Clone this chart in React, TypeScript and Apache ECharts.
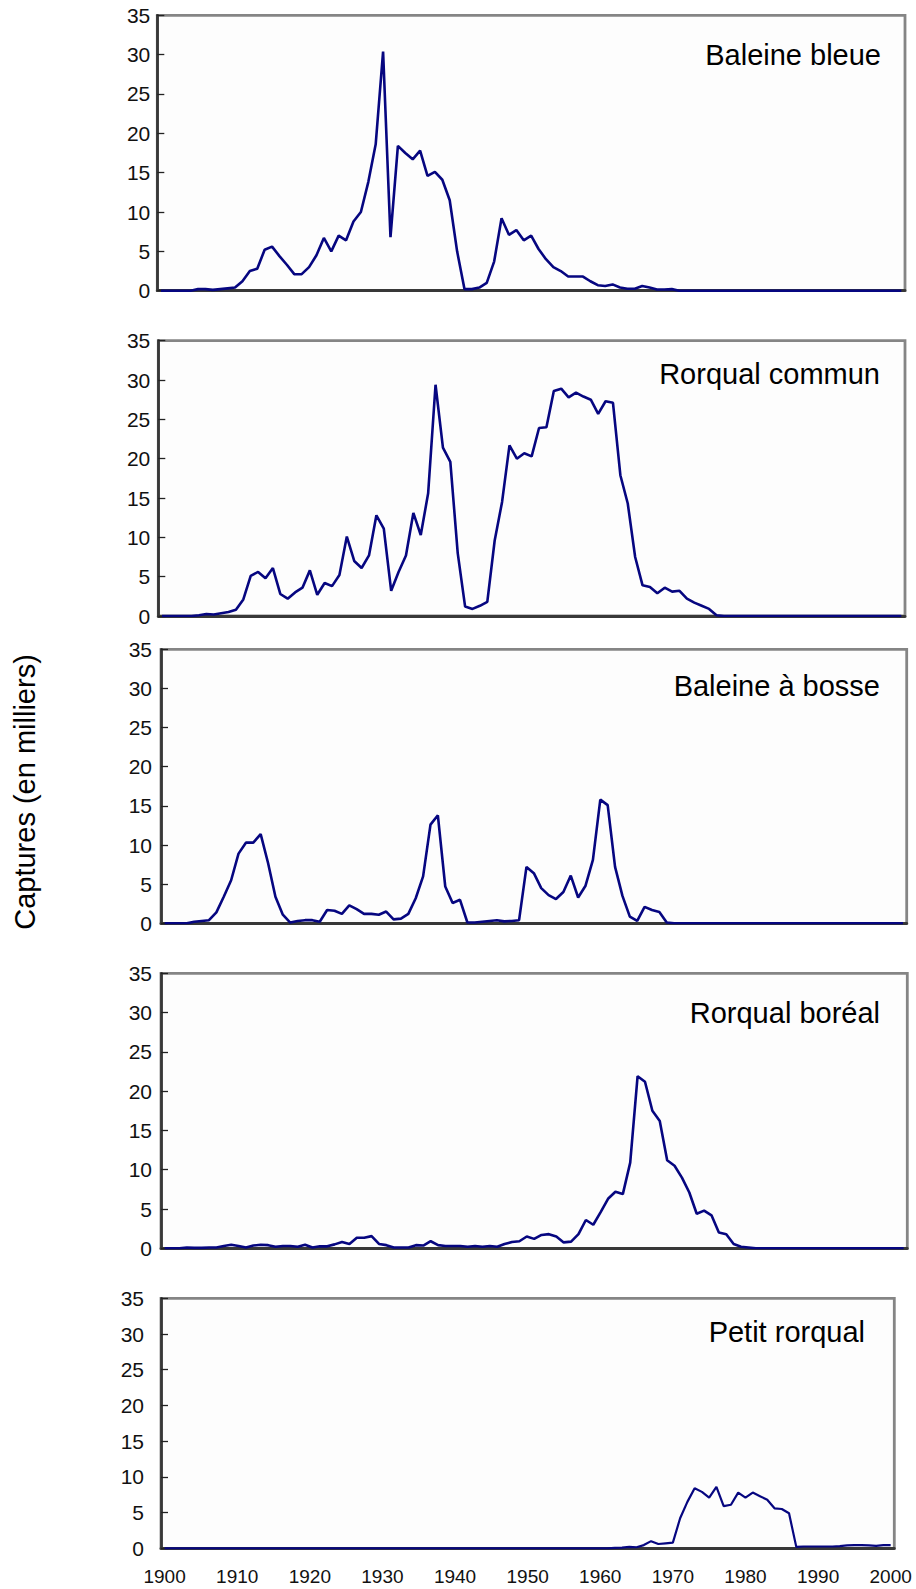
import React, { useEffect, useRef } from "react";
import * as echarts from "echarts";

// Categories: years 1900..2000
const YEARS: string[] = [];
for (let y = 1900; y <= 2000; y++) YEARS.push(String(y));

const TITLES = [
  "Baleine bleue",
  "Rorqual commun",
  "Baleine à bosse",
  "Rorqual boréal",
  "Petit rorqual",
];

const Y_LABEL = "Captures (en milliers)";

// Catches (thousands), one value per year 1900..2000
const BALEINE_BLEUE = [
  0, 0, 0, 0, 0, 0.2, 0.2, 0.1, 0.2, 0.3,
  0.4, 1.2, 2.5, 2.8, 5.2, 5.6, 4.4, 3.3, 2.1, 2.1,
  3.0, 4.5, 6.7, 5.0, 7.0, 6.4, 8.8, 10.0, 13.8, 18.6,
  30.4, 6.8, 18.4, 17.5, 16.7, 17.8, 14.6, 15.1, 14.1, 11.5,
  5.0, 0.2, 0.2, 0.4, 1.0, 3.7, 9.2, 7.1, 7.7, 6.4,
  7.0, 5.3, 4.0, 3.0, 2.5, 1.8, 1.8, 1.8, 1.2, 0.7,
  0.6, 0.8, 0.4, 0.25, 0.25, 0.6, 0.4, 0.15, 0.15, 0.2,
  0, 0, 0, 0, 0, 0, 0, 0, 0, 0,
  0, 0, 0, 0, 0, 0, 0, 0, 0, 0,
  0, 0, 0, 0, 0, 0, 0, 0, 0, 0,
  0,
];

const RORQUAL_COMMUN = [
  0, 0, 0, 0, 0, 0.1, 0.25, 0.2, 0.35, 0.5,
  0.8, 2.1, 5.1, 5.6, 4.8, 6.1, 2.8, 2.2, 3.0, 3.6,
  5.8, 2.7, 4.2, 3.8, 5.2, 10.1, 7.0, 6.1, 7.7, 12.8,
  11.1, 3.2, 5.6, 7.7, 13.1, 10.3, 15.6, 29.4, 21.4, 19.6,
  8.0, 1.2, 0.9, 1.3, 1.8, 9.6, 14.5, 21.7, 20.0, 20.7,
  20.3, 23.9, 24.0, 28.6, 28.9, 27.8, 28.4, 27.9, 27.5, 25.7,
  27.3, 27.1, 17.9, 14.3, 7.5, 3.9, 3.7, 2.9, 3.6, 3.1,
  3.2, 2.2, 1.7, 1.3, 0.9, 0.1, 0, 0, 0, 0,
  0, 0, 0, 0, 0, 0, 0, 0, 0, 0,
  0, 0, 0, 0, 0, 0, 0, 0, 0, 0,
  0,
];

const BALEINE_A_BOSSE = [
  0, 0, 0, 0, 0.2, 0.3, 0.4, 1.4, 3.4, 5.5,
  8.9, 10.3, 10.3, 11.4, 7.7, 3.4, 1.1, 0.1, 0.3, 0.4,
  0.4, 0.2, 1.7, 1.6, 1.2, 2.3, 1.8, 1.2, 1.2, 1.1,
  1.5, 0.5, 0.6, 1.2, 3.2, 6.0, 12.6, 13.8, 4.7, 2.6,
  3.0, 0.1, 0.1, 0.2, 0.3, 0.4, 0.25, 0.3, 0.4, 7.2,
  6.4, 4.5, 3.6, 3.1, 4.0, 6.1, 3.3, 4.8, 8.1, 15.8,
  15.1, 7.2, 3.5, 0.85, 0.3, 2.1, 1.7, 1.45, 0.1, 0,
  0, 0, 0, 0, 0, 0, 0, 0, 0, 0,
  0, 0, 0, 0, 0, 0, 0, 0, 0, 0,
  0, 0, 0, 0, 0, 0, 0, 0, 0, 0,
  0,
];

const RORQUAL_BOREAL = [
  0, 0, 0, 0.1, 0.05, 0.05, 0.1, 0.1, 0.3, 0.45,
  0.3, 0.1, 0.35, 0.45, 0.4, 0.2, 0.3, 0.3, 0.2, 0.45,
  0.1, 0.25, 0.25, 0.5, 0.8, 0.55, 1.35, 1.35, 1.55, 0.55,
  0.4, 0.1, 0.1, 0.1, 0.4, 0.35, 0.9, 0.4, 0.3, 0.3,
  0.3, 0.2, 0.3, 0.2, 0.3, 0.2, 0.55, 0.8, 0.9, 1.5,
  1.2, 1.7, 1.8, 1.5, 0.75, 0.85, 1.8, 3.6, 3.0, 4.6,
  6.3, 7.2, 6.9, 10.9, 21.9, 21.2, 17.5, 16.2, 11.2, 10.5,
  9.0, 7.1, 4.4, 4.8, 4.2, 2.0, 1.8, 0.55, 0.2, 0.1,
  0, 0, 0, 0, 0, 0, 0, 0, 0, 0,
  0, 0, 0, 0, 0, 0, 0, 0, 0, 0,
  0,
];

const PETIT_RORQUAL = [
  0, 0, 0, 0, 0, 0, 0, 0, 0, 0,
  0, 0, 0, 0, 0, 0, 0, 0, 0, 0,
  0, 0, 0, 0, 0, 0, 0, 0, 0, 0,
  0, 0, 0, 0, 0, 0, 0, 0, 0, 0,
  0, 0, 0, 0, 0, 0, 0, 0, 0, 0,
  0, 0, 0, 0, 0, 0, 0, 0, 0, 0,
  0, 0, 0.05, 0.1, 0.2, 0.15, 0.45, 1.0, 0.6, 0.7,
  0.8, 4.2, 6.5, 8.4, 7.9, 7.1, 8.6, 5.9, 6.1, 7.8,
  7.1, 7.8, 7.3, 6.8, 5.6, 5.5, 4.9, 0.2, 0.25, 0.25,
  0.25, 0.25, 0.25, 0.3, 0.4, 0.45, 0.45, 0.4, 0.35, 0.45,
  0.45,
];

const SERIES = [BALEINE_BLEUE, RORQUAL_COMMUN, BALEINE_A_BOSSE, RORQUAL_BOREAL, PETIT_RORQUAL];

// Layout (pixels) of each panel
const LAYOUT = [
  { left: 157.3, width: 747.7, top: 15.3, height: 275.4, labelMargin: 7, titleX: 881, titleY: 55 },
  { left: 158.3, width: 746.7, top: 340.7, height: 275.3, labelMargin: 8, titleX: 880, titleY: 374 },
  { left: 161, width: 745.7, top: 649.3, height: 274, labelMargin: 9, titleX: 880, titleY: 686 },
  { left: 161, width: 746.3, top: 973.3, height: 275, labelMargin: 9, titleX: 880, titleY: 1013 },
  { left: 161, width: 733.3, top: 1298.3, height: 250, labelMargin: 17, titleX: 865, titleY: 1332 },
];

const FONT = "'Liberation Sans', Arial, Helvetica, sans-serif";
const LINE_COLOR = "#060680";

export default function App() {
  const ref = useRef<HTMLDivElement>(null);

  useEffect(() => {
    document.body.style.margin = "0";
    if (!ref.current) return;
    const chart = echarts.init(ref.current, undefined, { renderer: "svg" });

    const last = LAYOUT.length - 1;
    const option: any = {
      animation: false,
      backgroundColor: "#ffffff",
      grid: LAYOUT.map((l) => ({
        left: l.left,
        top: l.top,
        width: l.width,
        height: l.height,
        show: true,
        borderColor: "#858585",
        borderWidth: 2.8,
        backgroundColor: "#fdfdfd",
        containLabel: false,
      })),
      xAxis: LAYOUT.map((l, i) => ({
        type: "category",
        gridIndex: i,
        data: YEARS,
        boundaryGap: true,
        axisLine: { show: true, lineStyle: { color: "#383838", width: 2.8 } },
        axisTick: { show: false },
        splitLine: { show: false },
        axisLabel: {
          show: i === last,
          interval: 9,
          fontSize: 19,
          fontFamily: FONT,
          color: "#111",
          margin: 19,
        },
      })),
      yAxis: LAYOUT.map((l, i) => ({
        type: "value",
        gridIndex: i,
        min: 0,
        max: 35,
        interval: 5,
        axisLine: { show: true, lineStyle: { color: "#383838", width: 2.8 } },
        axisTick: { show: true, inside: true, length: 7, lineStyle: { color: "#222", width: 1.3 } },
        splitLine: { show: false },
        axisLabel: {
          fontSize: 21,
          fontFamily: FONT,
          color: "#111",
          margin: l.labelMargin,
          padding: [10, 0, 0, 0],
        },
      })),
      series: SERIES.map((data, i) => ({
        type: "line",
        name: TITLES[i],
        xAxisIndex: i,
        yAxisIndex: i,
        data,
        showSymbol: false,
        symbol: "none",
        lineStyle: { color: LINE_COLOR, width: i === last ? 2.2 : 2.6 },
        itemStyle: { color: LINE_COLOR },
      })),
      graphic: [
        ...LAYOUT.map((l, i) => ({
          type: "text",
          x: l.titleX,
          y: l.titleY,
          z: 10,
          style: {
            text: TITLES[i],
            fill: "#000",
            fontSize: 29,
            fontFamily: FONT,
            align: "right",
            verticalAlign: "middle",
          },
        })),
        {
          type: "text",
          x: 25,
          y: 792,
          rotation: Math.PI / 2,
          style: {
            text: Y_LABEL,
            fill: "#000",
            fontSize: 29,
            fontFamily: FONT,
            align: "center",
            verticalAlign: "middle",
          },
        },
      ],
    };

    chart.setOption(option);
    return () => chart.dispose();
  }, []);

  return <div ref={ref} style={{ width: 916, height: 1589 }} />;
}
